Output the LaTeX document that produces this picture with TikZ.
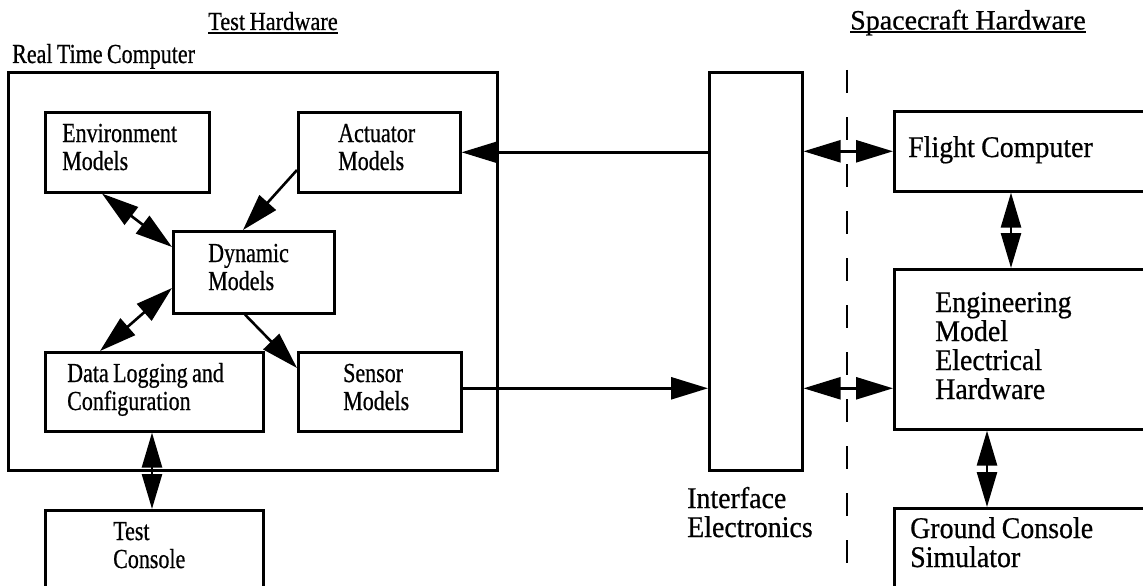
\documentclass[tikz,border=0pt]{standalone}
\usepackage{fontspec}
\setmainfont{Liberation Serif}[FakeBold=0.6]
\newfontfamily\condserif{Liberation Serif}[FakeStretch=0.8, WordSpace=0.8, FakeBold=0.6]
\newfontfamily\ttlserif{Liberation Serif}[FakeStretch=0.86, WordSpace=0.8, FakeBold=0.6]
\newfontfamily\rightserif{Liberation Serif}[FakeStretch=0.93, WordSpace=0.9, FakeBold=0.6]
\usetikzlibrary{arrows.meta}
\tikzset{
  box/.style={draw, line width=2.6pt, inner sep=0pt, anchor=north west},
  lefttxt/.style={inner sep=0pt, anchor=base west, align=left, text width=260pt,
    font=\condserif\fontsize{27.5}{28}\selectfont,
    execute at begin node={\spaceskip=0pt\xspaceskip=0pt\relax}},
  righttxt/.style={inner sep=0pt, anchor=base west, align=left, text width=250pt,
    font=\rightserif\fontsize{30}{29}\selectfont,
    execute at begin node={\spaceskip=0pt\xspaceskip=0pt\relax}},
  ttltxt/.style={inner sep=0pt, anchor=base west},
  uline/.style={line width=1.8pt},
  conn/.style={line width=2.6pt},
  oneway/.style={conn, -{Triangle[length=37pt,width=22pt]}},
  twoway/.style={conn, {Triangle[length=37pt,width=22pt]}-{Triangle[length=37pt,width=22pt]}},
  vtwoway/.style={conn, {Triangle[length=35pt,width=20pt]}-{Triangle[length=35pt,width=20pt]}},
  dashline/.style={line width=2.6pt, dash pattern=on 23pt off 24pt},
}
\begin{document}
\begin{tikzpicture}[x=1pt, y=-1pt]
\useasboundingbox (0,0) rectangle (1143,586);
\fill[white] (0,0) rectangle (1143,586);
\clip (0,0) rectangle (1143,586);

% titles
\node[ttltxt, font=\ttlserif\fontsize{26}{28}\selectfont] (testhw) at (208,30) {Test Hardware};
\draw[uline] ([yshift=-3pt]testhw.base west) -- ([yshift=-3pt]testhw.base east);
\node[ttltxt, font=\fontsize{28}{29}\selectfont] (schw) at (850,29.5) {Spacecraft Hardware};
\draw[uline] ([yshift=-2.5pt]schw.base west) -- ([yshift=-2.5pt]schw.base east);
\node[ttltxt, font=\condserif\fontsize{27.5}{28}\selectfont] (rtct) at (12,63) {Real Time Computer};

% boxes
\node[box, minimum width=489pt, minimum height=398pt] (rtc) at (7,71) {};
\node[box, minimum width=164pt, minimum height=80pt] (env) at (44,111) {};
\node[box, minimum width=162pt, minimum height=80pt] (act) at (297,111) {};
\node[box, minimum width=161pt, minimum height=82pt] (dyn) at (172,230) {};
\node[box, minimum width=218pt, minimum height=79pt] (data) at (44,351) {};
\node[box, minimum width=163pt, minimum height=79pt] (sens) at (297,351) {};
\node[box, minimum width=218pt, minimum height=100pt] (tcon) at (44,509) {};
\node[box, minimum width=93pt, minimum height=398pt] (ie) at (708,71) {};
\node[box, minimum width=280pt, minimum height=80pt] (flight) at (893,110) {};
\node[box, minimum width=280pt, minimum height=160pt] (eng) at (893,268) {};
\node[box, minimum width=280pt, minimum height=100pt] (gnd) at (893,507) {};

% texts
\node[lefttxt] (envt) at (62,142) {Environment\\Models};
\node[lefttxt] (actt) at (338,142) {Actuator\\Models};
\node[lefttxt] (dynt) at (208,262) {Dynamic\\Models};
\node[lefttxt] (datat) at (67,382) {Data Logging and\\Configuration};
\node[lefttxt] (senst) at (343,382) {Sensor\\Models};
\node[lefttxt] (tcont) at (113,540) {Test\\Console};
\node[righttxt] (iet) at (687,508) {Interface\\Electronics};
\node[righttxt] (flightt) at (908,157) {Flight Computer};
\node[righttxt] (engt) at (935,312) {Engineering\\Model\\Electrical\\Hardware};
\node[righttxt] (gndt) at (910,538) {Ground Console\\Simulator};

% divider
\coordinate (dtop) at (847,70);
\coordinate (dbot) at (847,600);
\draw[dashline] (dtop) -- (dbot);

% connectors inside the real time computer
\draw[twoway] ([xshift=58pt]env.south west) -- ([yshift=-17pt]dyn.north west);
\draw[oneway] ([yshift=-59pt]act.north west) -- ([xshift=71pt]dyn.north west);
\draw[twoway] ([yshift=-58pt]dyn.north west) -- ([xshift=56pt]data.north west);
\draw[oneway] ([xshift=73pt]dyn.south west) -- ([yshift=-17pt]sens.north west);
\draw[vtwoway] ([xshift=108pt]data.south west) -- ([xshift=108pt]tcon.north west);

% connectors to interface electronics
\draw[oneway] (ie.west |- act.east) -- (act.east);
\draw[twoway] (ie.east |- flight.west) -- (flight.west);
\draw[oneway] ([yshift=3.5pt]sens.east) -- ([yshift=3.5pt]sens.east -| ie.west);
\draw[twoway] ([yshift=3.5pt]sens.east -| ie.east) -- ([yshift=3.5pt]sens.east -| eng.west);

% spacecraft side
\draw[vtwoway] ([xshift=118pt]flight.south west) -- ([xshift=118pt]eng.north west);
\draw[vtwoway] ([xshift=94pt]eng.south west) -- ([xshift=94pt]gnd.north west);
\end{tikzpicture}
\end{document}
